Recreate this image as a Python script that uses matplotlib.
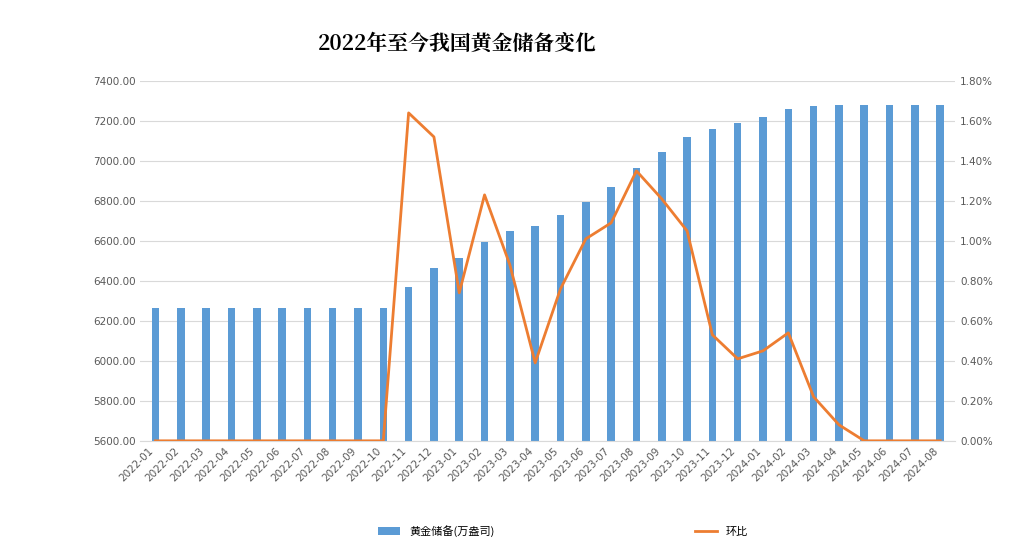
import matplotlib
matplotlib.use("Agg")
import matplotlib.pyplot as plt
from matplotlib import font_manager as fm
from matplotlib.ticker import FuncFormatter, MultipleLocator

cjk = [f for f in fm.fontManager.ttflist if "CJK" in f.name or "CJK" in f.fname]
sans = [f.name for f in cjk if "Sans" in f.name]
serif = [f.name for f in cjk if "Serif" in f.name]
sans_name = sans[0] if sans else (cjk[0].name if cjk else "DejaVu Sans")
serif_name = serif[0] if serif else sans_name
plt.rcParams["font.family"] = ["DejaVu Sans", sans_name]

months = ["2022-01","2022-02","2022-03","2022-04","2022-05","2022-06","2022-07","2022-08","2022-09","2022-10",
          "2022-11","2022-12","2023-01","2023-02","2023-03","2023-04","2023-05","2023-06","2023-07","2023-08",
          "2023-09","2023-10","2023-11","2023-12","2024-01","2024-02","2024-03","2024-04","2024-05","2024-06",
          "2024-07","2024-08"]
reserves = [6264]*10 + [6367,6464,6512,6592,6650,6676,6727,6795,6869,6962,
                        7046,7120,7158,7187,7219,7258,7274,7280,7280,7280,7280,7280]
mom = [0]*10 + [1.64,1.52,0.74,1.23,0.88,0.39,0.76,1.01,1.09,1.35,
                1.21,1.05,0.53,0.41,0.45,0.54,0.22,0.08,0,0,0,0]

fig = plt.figure(figsize=(10.24,5.58), dpi=100)
ax = fig.add_axes([0.137,0.21,0.796,0.645])
x = range(len(months))
b = ax.bar(x, reserves, width=0.3, color="#5b9bd5", zorder=2)
ax.set_ylim(5600,7400)
ax.yaxis.set_major_locator(MultipleLocator(200))
ax.yaxis.set_major_formatter(FuncFormatter(lambda v,p: f"{v:.2f}"))
ax.grid(axis="y", color="#d9d9d9", lw=0.8, zorder=0)
ax.set_xlim(-0.6, len(months)-0.4)
ax.set_xticks(list(x))
ax.set_xticklabels(months, rotation=45, ha="right", fontsize=7.5, color="#595959")
for s in ax.spines.values(): s.set_visible(False)
ax.spines["bottom"].set_visible(True); ax.spines["bottom"].set_color("#d9d9d9")
ax.tick_params(length=0, labelsize=7.5, colors="#595959")

ax2 = ax.twinx()
l, = ax2.plot(list(x), mom, color="#ed7d31", lw=2)
ax2.set_ylim(0,1.8)
ax2.yaxis.set_major_locator(MultipleLocator(0.2))
ax2.yaxis.set_major_formatter(FuncFormatter(lambda v,p: f"{v:.2f}%"))
for s in ax2.spines.values(): s.set_visible(False)
ax2.tick_params(length=0, labelsize=7.5, colors="#595959")

fig.text(0.447, 0.922, "2022年至今我国黄金储备变化", ha="center", va="center", fontsize=15, fontweight="bold", family=serif_name)
fig.legend([b, l], ["黄金储备(万盎司)", "环比"], loc="center", bbox_to_anchor=(0.55,0.048), ncol=2, frameon=False,
           prop={"family": sans_name, "size": 8}, columnspacing=18)
fig.savefig("out.png")
